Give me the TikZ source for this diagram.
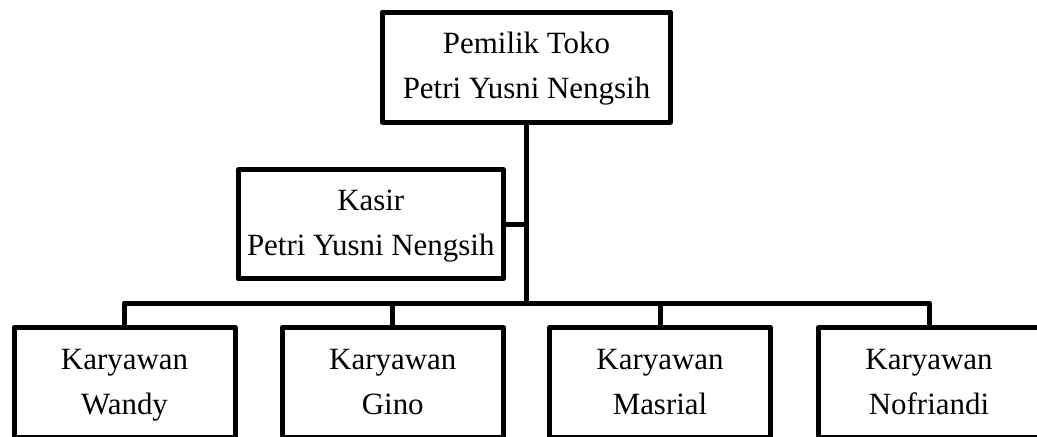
\documentclass[tikz,border=0pt]{standalone}
\usepackage{fontspec}
\setmainfont{Liberation Serif}
\begin{document}
\begin{tikzpicture}[x=0.75pt,y=-0.75pt,
  box/.style={draw,line width=3.75pt,line join=round,fill=white,inner sep=0pt,
    align=center,font=\fontsize{23.2pt}{33.75pt}\selectfont},
  topbox/.style={box,minimum width=216pt,minimum height=82.5pt},
  kasirbox/.style={box,minimum width=198.4pt,minimum height=82.1pt},
  staffbox/.style={box,minimum width=165.75pt,minimum height=82.5pt},
  link/.style={line width=3.75pt,line join=round}]
\path[use as bounding box, clip] (0,0) rectangle (1037,436);
\fill[white] (0,0) rectangle (1037,436);
\node[topbox] (owner) at (526.5,67) {\strut Pemilik Toko\\\strut Petri Yusni Nengsih};
\node[kasirbox] (kasir) at (370.75,224.25) {\strut Kasir\\\strut Petri Yusni Nengsih};
\node[staffbox] (wandy) at (124.5,382.5) {\strut Karyawan\\\strut Wandy};
\node[staffbox] (gino) at (392.75,382.5) {\strut Karyawan\\\strut Gino};
\node[staffbox] (masrial) at (660,382.5) {\strut Karyawan\\\strut Masrial};
\node[staffbox] (nofri) at (929,382.5) {\strut Karyawan\\\strut Nofriandi};
\coordinate (bar) at (526.5,303);
\draw[link] (owner.south) -- (bar);
\draw[link] (kasir.east) -- (kasir.east -| bar);
\draw[link] (wandy.north) -- (wandy.north |- bar) -- (nofri.north |- bar) -- (nofri.north);
\draw[link] (gino.north) -- (gino.north |- bar);
\draw[link] (masrial.north) -- (masrial.north |- bar);
\end{tikzpicture}
\end{document}
